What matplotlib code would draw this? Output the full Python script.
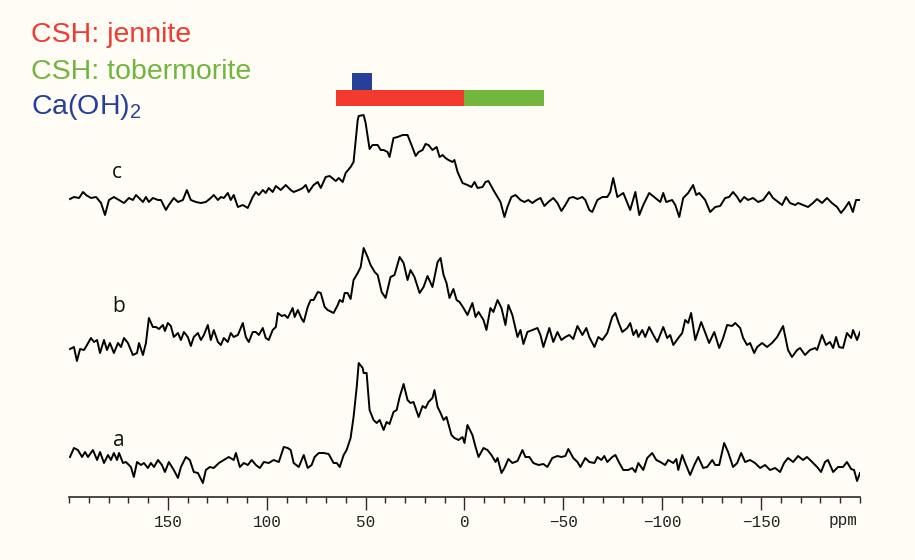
import matplotlib
matplotlib.use("Agg")
import matplotlib.pyplot as plt
from matplotlib.ticker import FixedLocator, MultipleLocator

# Chemical shift (ppm) and intensity (arb. units) for the three spectra
shift_c = [199.5, 197.5, 194.9, 192.9, 191.4, 188.9, 186.3, 183.8, 181.8, 179.8,
           177.3, 174.7, 172.2, 169.7, 167.7, 166.1, 164.6, 162.6, 161.1, 159.6,
           157.6, 155.0, 153.5, 151.0, 149.5, 147.0, 144.9, 142.4, 140.4, 138.4,
           135.8, 133.3, 130.8, 128.3, 126.8, 124.7, 123.2, 121.7, 119.7, 118.2,
           116.7, 114.6, 112.1, 109.6, 107.1, 105.5, 104.0, 102.0, 100.5, 99.0,
           97.0, 95.4, 92.9, 90.4, 87.9, 86.4, 83.8, 81.8, 80.3, 78.8,
           76.3, 74.2, 72.7, 70.2, 68.2, 65.1, 63.6, 61.6, 60.1, 57.6,
           56.1, 54.0, 53.5, 51.0, 50.0, 48.0, 46.5, 43.9, 42.4, 40.9,
           38.9, 37.9, 35.9, 33.8, 31.3, 28.8, 26.8, 24.7, 23.2, 21.2,
           19.7, 18.2, 16.2, 14.1, 12.6, 11.1, 9.6, 8.1, 6.1, 5.1,
           3.5, 1.0, -1.5, -3.5, -5.1, -6.6, -9.1, -10.6, -12.1, -14.6,
           -16.7, -18.2, -20.2, -21.7, -23.7, -25.8, -28.3, -30.3, -32.3, -34.3,
           -36.4, -38.4, -40.4, -42.4, -44.9, -47.0, -49.0, -51.0, -53.0, -55.0,
           -57.1, -59.6, -61.1, -63.1, -64.6, -67.2, -69.7, -72.2, -73.7, -75.2,
           -77.3, -80.3, -83.8, -86.4, -88.4, -90.4, -93.4, -96.5, -99.0, -100.5,
           -102.0, -105.0, -106.6, -108.6, -110.6, -113.1, -115.6, -117.2, -118.7, -121.7,
           -124.2, -126.8, -129.3, -131.8, -133.8, -135.8, -137.9, -139.4, -141.4, -143.4,
           -145.9, -148.5, -151.0, -154.0, -156.0, -158.6, -160.6, -162.6, -164.6, -167.2,
           -168.7, -171.2, -173.7, -176.2, -178.3, -180.8, -183.3, -185.8, -188.4, -190.4,
           -192.4, -194.4, -196.4, -198.0, -199.5]
int_c = [1, 3, 2, 8, 5, 2, 3, -3, -15, 0,
         3, 0, -3, 2, 0, 5, 2, -2, 3, -2,
         2, 0, 0, -10, -5, 2, -2, 0, 10, 0,
         -2, -3, -2, 2, 5, 0, 3, 2, 7, 0,
         5, -7, -5, -8, 3, 8, 5, 10, 7, 12,
         8, 14, 10, 15, 10, 8, 10, 12, 15, 8,
         15, 18, 12, 23, 24, 19, 22, 18, 27, 33,
         38, 80, 84, 85, 77, 51, 55, 55, 50, 50,
         48, 43, 62, 63, 65, 65, 55, 44, 48, 50,
         56, 55, 50, 53, 43, 45, 42, 40, 38, 40,
         28, 17, 15, 13, 18, 12, 13, 18, 19, 10,
         3, -2, -17, -7, 3, 5, 0, -2, 0, -3,
         0, 2, -6, -2, 2, -3, -11, -5, 2, 3,
         1, 3, 0, -10, -12, 0, 3, 3, 8, 22,
         3, 7, -10, 8, -15, -5, 7, 2, -2, 7,
         -2, 0, -5, -17, 2, 7, 15, 5, 7, 0,
         -12, -7, -6, 2, 3, 8, 3, -2, 3, 0,
         2, -2, 0, 8, 2, -2, -5, 3, -3, -5,
         -3, -5, -7, -3, 1, -3, 2, -3, -7, -13,
         -8, -2, -12, 0, 0]

shift_b = [199.5, 197.5, 196.0, 194.4, 192.4, 190.9, 188.9, 187.4, 185.8, 184.3,
           182.3, 180.8, 179.3, 177.3, 175.2, 173.7, 172.2, 170.2, 167.7, 165.6,
           164.6, 162.6, 161.1, 159.6, 157.6, 156.0, 154.5, 152.5, 151.5, 150.0,
           148.5, 147.0, 144.9, 143.4, 141.9, 139.9, 138.4, 136.9, 134.8, 133.3,
           131.8, 129.8, 128.3, 126.8, 124.7, 123.2, 121.7, 119.7, 118.2, 116.7,
           114.6, 112.1, 110.6, 109.1, 107.1, 105.5, 104.0, 102.0, 100.5, 99.0,
           97.0, 95.4, 94.4, 92.4, 90.9, 89.4, 86.9, 85.9, 84.3, 82.3,
           81.3, 79.3, 77.8, 76.3, 74.2, 72.7, 70.7, 69.2, 66.2, 64.1,
           63.1, 61.6, 60.6, 59.1, 57.6, 56.1, 54.0, 52.5, 51.0, 49.0,
           47.5, 45.4, 43.9, 41.9, 39.9, 37.4, 35.4, 32.8, 30.8, 28.8,
           27.3, 25.3, 22.7, 20.7, 18.7, 16.2, 13.6, 12.1, 10.6, 9.1,
           7.6, 5.6, 4.0, 2.5, 0.5, -1.5, -4.0, -5.6, -7.1, -9.6,
           -11.1, -13.1, -14.6, -16.7, -18.7, -20.7, -22.2, -24.2, -26.8, -28.3,
           -29.8, -31.8, -34.3, -36.9, -38.4, -39.9, -42.9, -44.9, -47.0, -49.0,
           -51.0, -53.0, -55.0, -57.1, -59.6, -61.6, -63.1, -65.7, -67.7, -69.7,
           -72.2, -74.7, -76.3, -77.8, -79.8, -82.3, -83.8, -85.4, -86.9, -87.9,
           -89.9, -91.4, -93.4, -95.5, -97.5, -100.5, -102.5, -104.0, -105.6, -108.1,
           -110.1, -111.6, -113.1, -114.6, -116.7, -119.7, -122.2, -123.7, -126.3, -128.8,
           -130.8, -132.8, -135.3, -136.9, -139.4, -140.9, -142.9, -144.4, -146.5, -148.0,
           -150.5, -153.0, -155.5, -158.1, -161.1, -163.6, -165.6, -168.2, -169.7, -172.2,
           -174.7, -177.3, -178.3, -180.8, -182.8, -184.8, -186.4, -187.9, -189.4, -191.4,
           -193.4, -195.5, -196.5, -198.5, -200.0]
int_b = [-12, -10, -24, -12, -13, -8, -1, -5, -3, -16,
         -3, -13, -6, -16, -6, -10, -1, -6, -18, -16,
         -6, -18, -6, 19, 10, 10, 8, 12, 6, 14,
         11, 0, 4, -3, 5, 0, -9, 0, 4, -3,
         2, 12, -3, 7, -5, -8, -1, -5, 4, 0,
         2, 14, 0, -5, 5, 5, 2, 9, -1, -3,
         7, 10, 24, 21, 22, 19, 29, 20, 27, 18,
         15, 30, 37, 37, 45, 44, 30, 27, 24, 32,
         37, 35, 44, 44, 38, 57, 64, 70, 89, 80,
         72, 65, 62, 45, 39, 60, 62, 80, 74, 57,
         67, 60, 44, 50, 61, 50, 75, 79, 62, 54,
         39, 48, 37, 35, 29, 22, 34, 20, 25, 17,
         7, 29, 25, 37, 29, 12, 32, 22, 0, 7,
         -7, 5, 7, 9, 2, -10, 9, -5, 5, -3,
         0, 2, -2, 11, 2, 9, 0, -10, 0, -3,
         4, 20, 24, 15, 5, 9, 14, 2, 7, 0,
         7, 0, 10, 2, -5, 10, -1, 2, -8, -1,
         4, 17, 14, 24, -3, 15, 2, -6, 5, -11,
         -1, 12, 11, 14, 9, -1, -8, -6, -16, -10,
         -6, -10, -6, 0, 11, -13, -20, -13, -11, -18,
         -13, -11, -13, 2, -8, -5, -11, 0, -10, -11,
         4, -1, 7, -3, 5]

shift_a = [199.5, 197.5, 195.5, 193.4, 191.9, 190.4, 187.9, 185.8, 184.3, 182.3,
           180.3, 178.8, 177.3, 175.7, 174.7, 172.7, 171.2, 168.7, 167.2, 165.6,
           163.6, 162.1, 160.1, 158.6, 157.0, 155.0, 153.0, 151.5, 149.5, 147.0,
           144.9, 143.4, 140.9, 138.9, 136.9, 134.8, 132.3, 130.8, 128.8, 126.8,
           124.2, 121.7, 119.2, 116.7, 115.6, 113.6, 111.6, 109.6, 107.6, 105.5,
           103.5, 101.5, 99.0, 96.5, 93.9, 91.4, 89.4, 87.9, 86.4, 83.8,
           81.3, 79.3, 77.3, 75.8, 73.7, 71.2, 68.7, 66.2, 64.6, 63.1,
           61.1, 59.6, 57.6, 56.1, 54.5, 53.5, 51.5, 51.0, 49.5, 48.0,
           46.0, 44.4, 42.9, 40.9, 39.4, 37.9, 35.9, 34.3, 32.8, 30.8,
           28.8, 27.3, 25.8, 23.2, 21.2, 19.7, 18.2, 16.2, 15.2, 13.6,
           12.1, 10.6, 9.1, 6.6, 5.1, 3.0, 1.0, 0.0, -1.5, -4.0,
           -5.6, -7.1, -9.6, -11.6, -13.6, -15.7, -16.7, -18.7, -20.2, -22.2,
           -24.2, -26.8, -29.3, -30.8, -32.8, -34.8, -37.4, -39.9, -41.9, -44.4,
           -47.0, -49.0, -51.0, -52.5, -55.0, -57.1, -58.6, -61.1, -63.1, -65.7,
           -67.2, -69.2, -70.7, -72.2, -74.7, -76.3, -78.3, -80.3, -82.8, -84.8,
           -86.4, -87.9, -90.4, -92.4, -94.9, -97.0, -99.0, -101.5, -103.0, -105.6,
           -107.1, -108.1, -110.1, -111.6, -114.1, -116.2, -118.2, -120.7, -122.7, -125.3,
           -126.8, -128.8, -131.3, -133.3, -135.8, -137.9, -139.9, -141.9, -144.4, -146.9,
           -149.5, -152.0, -154.5, -157.1, -159.6, -161.6, -163.6, -166.2, -168.7, -171.2,
           -173.2, -175.8, -178.3, -180.3, -182.3, -183.8, -186.4, -188.9, -191.4, -193.4,
           -195.5, -197.0, -198.5, -200.0]
int_a = [5, 14, 12, 5, 10, 5, 12, 2, 10, -1,
         7, 2, 9, 2, 9, -1, 0, -5, -15, 0,
         -3, -1, -6, -1, -5, 2, -3, -10, 0, -8,
         -16, -5, 5, 2, -10, -11, -21, -8, -5, -6,
         -1, 2, 5, 2, 9, -5, -1, -3, 2, -3,
         -6, 0, -1, 2, 0, 15, 14, 12, -1, -5,
         7, -6, -3, 5, 9, 9, 8, -1, -1, -5,
         7, 12, 24, 45, 75, 99, 94, 89, 89, 52,
         42, 39, 42, 32, 40, 38, 50, 52, 65, 78,
         62, 59, 60, 45, 56, 54, 60, 64, 72, 55,
         49, 42, 45, 27, 24, 22, 25, 19, 37, 27,
         15, 5, 14, 12, 7, 0, 4, -11, -6, 3,
         -1, 1, 12, 5, 5, -1, -3, -2, -5, 4,
         6, 5, 6, 13, 4, 0, -5, 4, 0, -1,
         5, 2, 6, 0, 5, 7, -1, -8, -8, -6,
         -10, -1, -8, 4, 9, 2, 0, -3, 2, -1,
         3, -8, 7, -1, -13, -3, 5, -6, -5, 2,
         -3, -3, 19, 10, -5, -1, 9, 0, 2, -1,
         -6, -3, -8, -6, -10, -1, 4, 0, 6, 2,
         5, 0, -5, -10, 0, 2, -10, -5, -5, 0,
         -7, -8, -19, -11]

spectrum_labels = ["c", "b", "a"]

# Assignment ranges (ppm)
jennite_range = (65, 0)
tobermorite_range = (0, -40)
caoh2_range = (57, 47)

major_ticks = [150, 100, 50, 0, -50, -100, -150]

RED = "#f23b2e"
GREEN = "#72b63e"
BLUE = "#26409a"
BG = "#fffdf6"

plt.rcParams["mathtext.default"] = "regular"

fig = plt.figure(figsize=(9.15, 5.6), dpi=100, facecolor=BG)
W, H = 915, 560
ax = fig.add_axes([69 / W, 1 - 497 / H, (860 - 69) / W, (497 - 5) / H])
ax.set_facecolor(BG)
ax.set_xlim(200, -200)
ax.set_ylim(0, 492)

offsets = {"c": 297, "b": 160, "a": 35}
traces = {"c": (shift_c, int_c), "b": (shift_b, int_b), "a": (shift_a, int_a)}
for lab in spectrum_labels:
    xs, ys = traces[lab]
    ax.plot(xs, [v + offsets[lab] for v in ys], color="black", lw=1.4,
            solid_joinstyle="round")

# Stacking labels
label_pos = {"c": (176, 324), "b": (175, 190), "a": (175, 57)}
for lab in spectrum_labels:
    x, y = label_pos[lab]
    ax.text(x, y, lab, fontsize=15, family="Open Sans", color="#111111",
            ha="center", va="center")

# Assignment bars
bar_y, bar_h = 391, 16
ax.add_patch(plt.Rectangle((jennite_range[1], bar_y),
                           jennite_range[0] - jennite_range[1], bar_h,
                           color=RED, lw=0))
ax.add_patch(plt.Rectangle((tobermorite_range[1], bar_y),
                           tobermorite_range[0] - tobermorite_range[1], bar_h,
                           color=GREEN, lw=0))
ax.add_patch(plt.Rectangle((caoh2_range[1], bar_y + bar_h),
                           caoh2_range[0] - caoh2_range[1], 17,
                           color=BLUE, lw=0))

# Axis styling: only the bottom ppm scale
for s in ("left", "right", "top"):
    ax.spines[s].set_visible(False)
ax.spines["bottom"].set_color("#2e2a26")
ax.spines["bottom"].set_linewidth(1.2)
ax.set_yticks([])
ax.xaxis.set_major_locator(FixedLocator(major_ticks))
ax.xaxis.set_minor_locator(MultipleLocator(10))
ax.tick_params(axis="x", which="major", direction="out", length=9, width=1,
               color="#2e2a26", pad=4)
ax.tick_params(axis="x", which="minor", direction="out", length=4, width=1,
               color="#2e2a26")
ax.set_xticklabels([f"{t:d}".replace("-", "\u2212") for t in major_ticks],
                   family="Liberation Mono", fontsize=11.5, color="#222222")
fig.text(843 / W, 1 - 521 / H, "ppm", family="Liberation Mono", fontsize=11.5,
         color="#222222", ha="center", va="center")

# Colour key
fig.text(31 / W, 1 - 35 / H, "CSH: jennite", color=RED, fontsize=20.5,
         family="Liberation Sans", va="center", ha="left")
fig.text(31 / W, 1 - 72 / H, "CSH: tobermorite", color=GREEN, fontsize=20.5,
         family="Liberation Sans", va="center", ha="left")
fig.text(31 / W, 1 - 107 / H, "Ca(OH)$_2$", color=BLUE, fontsize=20.5,
         family="Liberation Sans", va="center", ha="left")

fig.savefig("out.png", dpi=100, facecolor=BG)
